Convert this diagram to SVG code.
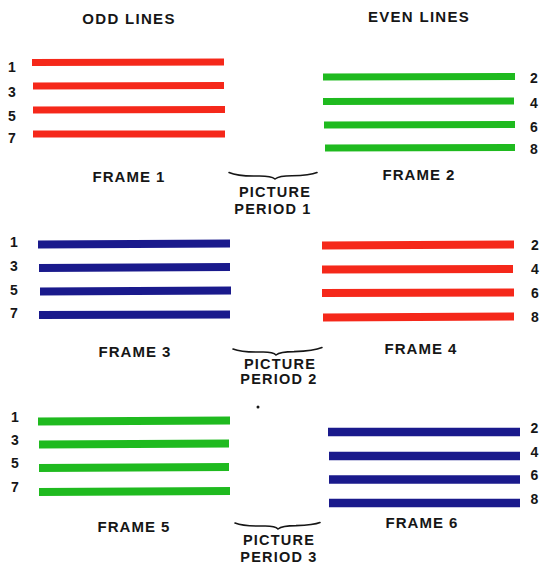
<svg xmlns="http://www.w3.org/2000/svg" width="540" height="566" viewBox="0 0 540 566">
<style>
text{font-family:"Liberation Sans",Arial,sans-serif;font-weight:bold;fill:#161616}
.h{font-size:15px;letter-spacing:1.3px;text-anchor:middle}
.f{font-size:15px;letter-spacing:1px;text-anchor:middle}
.n{font-size:14px;text-anchor:middle}
.p{font-size:14.5px;letter-spacing:1.2px;text-anchor:middle}
.red{stroke:#f5281a;fill:none}
.grn{stroke:#1fba1f;fill:none}
.blu{stroke:#1a1a8c;fill:none}
.brace{stroke:#161616;stroke-width:1.6;fill:none;stroke-linecap:round}
</style>
<rect width="540" height="566" fill="#fff"/>
<text class="h" x="129" y="24">ODD LINES</text>
<text class="h" x="419" y="22">EVEN LINES</text>

<g id="frame1">
<g class="red" stroke-width="7">
<line x1="32" y1="62.5" x2="224" y2="62"/>
<line x1="33" y1="86" x2="224" y2="85.5"/>
<line x1="33" y1="110" x2="225" y2="109.5"/>
<line x1="33" y1="134" x2="225" y2="134"/>
</g>
<text class="n" x="12" y="72">1</text>
<text class="n" x="12" y="97">3</text>
<text class="n" x="12" y="121">5</text>
<text class="n" x="12" y="143">7</text>
<text class="f" x="129" y="182">FRAME 1</text>
</g>

<g id="frame2">
<g class="grn" stroke-width="7">
<line x1="323" y1="77" x2="515" y2="76.5"/>
<line x1="323" y1="101.5" x2="514" y2="101"/>
<line x1="324" y1="125" x2="515" y2="124.5"/>
<line x1="325" y1="148" x2="515" y2="147.5"/>
</g>
<text class="n" x="534" y="83">2</text>
<text class="n" x="534" y="108">4</text>
<text class="n" x="534" y="132">6</text>
<text class="n" x="534" y="154">8</text>
<text class="f" x="419" y="180">FRAME 2</text>
</g>

<g id="frame3">
<g class="blu" stroke-width="8">
<line x1="38" y1="244.5" x2="230" y2="243.5"/>
<line x1="39" y1="268" x2="230" y2="267"/>
<line x1="40" y1="291.5" x2="231" y2="290.5"/>
<line x1="39" y1="315" x2="230" y2="314.5"/>
</g>
<text class="n" x="14" y="247">1</text>
<text class="n" x="14" y="271">3</text>
<text class="n" x="14" y="295">5</text>
<text class="n" x="14" y="318">7</text>
<text class="f" x="135" y="357">FRAME 3</text>
</g>

<g id="frame4">
<g class="red" stroke-width="8">
<line x1="322" y1="245.5" x2="514" y2="244.5"/>
<line x1="322" y1="269.5" x2="513" y2="269"/>
<line x1="322" y1="293" x2="514" y2="292.5"/>
<line x1="323" y1="317.5" x2="514" y2="316.5"/>
</g>
<text class="n" x="535" y="250">2</text>
<text class="n" x="535" y="274">4</text>
<text class="n" x="535" y="298">6</text>
<text class="n" x="535" y="322">8</text>
<text class="f" x="421" y="354">FRAME 4</text>
</g>

<g id="frame5">
<g class="grn" stroke-width="8">
<line x1="38" y1="421.5" x2="230" y2="420.5"/>
<line x1="39" y1="444.5" x2="229" y2="443.5"/>
<line x1="39" y1="468" x2="229" y2="467"/>
<line x1="39" y1="492" x2="230" y2="491"/>
</g>
<text class="n" x="15" y="422">1</text>
<text class="n" x="15" y="445">3</text>
<text class="n" x="15" y="468">5</text>
<text class="n" x="15" y="492">7</text>
<text class="f" x="134" y="532">FRAME 5</text>
</g>

<g id="frame6">
<g class="blu" stroke-width="8.5">
<line x1="328" y1="432" x2="520" y2="432"/>
<line x1="329" y1="456" x2="520" y2="456"/>
<line x1="329" y1="479.5" x2="520" y2="479.5"/>
<line x1="329" y1="503" x2="520" y2="503"/>
</g>
<text class="n" x="534.5" y="433">2</text>
<text class="n" x="534.5" y="457">4</text>
<text class="n" x="534.5" y="480">6</text>
<text class="n" x="534.5" y="504">8</text>
<text class="f" x="422" y="528">FRAME 6</text>
</g>

<g id="connectors">
<path class="brace" d="M229,172.5 Q238,176.5 258,176 Q271,175.8 275,179 Q279,175.8 292,175.8 Q310,175.5 317,172.5"/>
<path class="brace" d="M233,349 Q242,352.5 262,352 Q273,351.8 276,355 Q280,351.6 294,351.6 Q314,351 322,347.5"/>
<path class="brace" d="M235,523 Q244,526.5 264,526 Q275,525.8 278,529 Q282,525.6 296,525.6 Q314,525 320,522.5"/>
</g>

<g id="period1">
<text class="p" x="275" y="197">PICTURE</text>
<text class="p" x="273" y="214">PERIOD 1</text>
</g>
<g id="period2">
<text class="p" x="280" y="369">PICTURE</text>
<text class="p" x="279" y="384">PERIOD 2</text>
</g>
<g id="period3">
<text class="p" x="279" y="545">PICTURE</text>
<text class="p" x="279" y="562">PERIOD 3</text>
</g>
<circle cx="258" cy="407" r="1.5" fill="#161616"/>
</svg>
